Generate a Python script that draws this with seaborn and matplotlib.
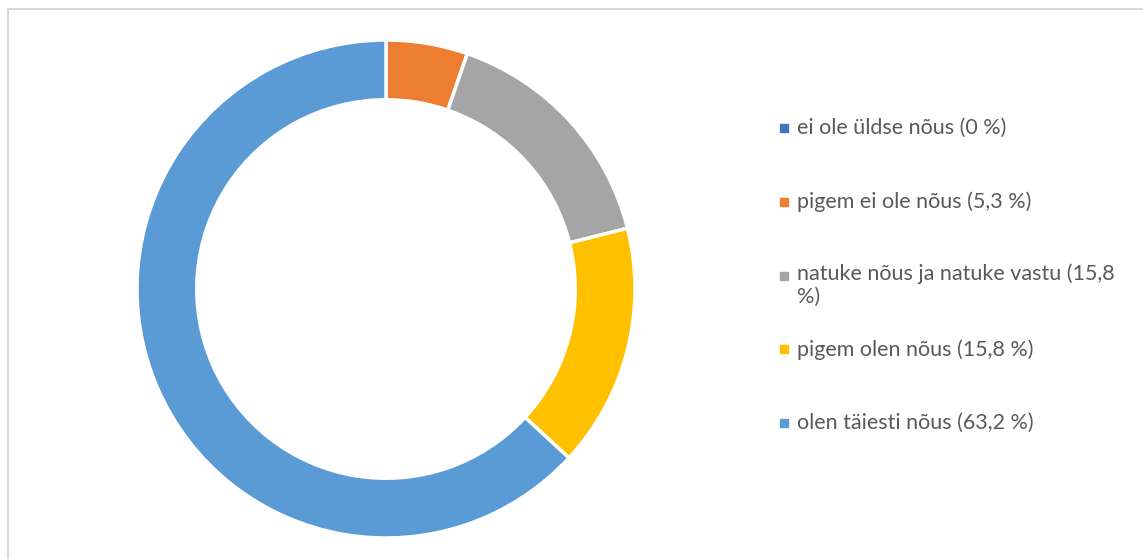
import matplotlib
matplotlib.use("Agg")
import matplotlib.pyplot as plt
import seaborn as sns
from matplotlib.patches import Rectangle

sns.set_theme(style="white")
plt.rcParams['font.family'] = ['Lato', 'DejaVu Sans']

# andmed
labels = ["ei ole üldse nõus (0 %)", "pigem ei ole nõus (5,3 %)",
          "natuke nõus ja natuke vastu (15,8\n%)", "pigem olen nõus (15,8 %)",
          "olen täiesti nõus (63,2 %)"]
values = [0, 5.3, 15.8, 15.8, 63.2]
colors = ["#4472C4", "#ED7D31", "#A5A5A5", "#FFC000", "#5B9BD5"]

W, H = 1143, 559
fig = plt.figure(figsize=(W / 100, H / 100), dpi=100)

# hall raam
fig.patches.append(Rectangle((8 / W, -0.1), 1.2, (H - 9) / H + 0.1, transform=fig.transFigure,
                             fill=False, edgecolor="#D9D9D9", linewidth=1.5))

# sõõrik
cx, cy, r = 386, 289, 249
ax = fig.add_axes([(cx - r) / W, (H - cy - r) / H, 2 * r / W, 2 * r / H])
ax.pie(values, colors=colors, startangle=90, counterclock=False, radius=1,
       wedgeprops=dict(width=0.24, edgecolor="white", linewidth=2.5))
ax.set_xlim(-1, 1)
ax.set_ylim(-1, 1)
ax.set_aspect("equal")
ax.axis("off")

# legend
y0, step = 128, 73.8
for i, (lab, col) in enumerate(zip(labels, colors)):
    y = y0 + i * step
    fig.patches.append(Rectangle((780 / W, (H - y - 4) / H), 8 / W, 8 / H,
                                 transform=fig.transFigure, color=col))
    if "\n" in lab:
        fig.text(797 / W, (H - y + 12) / H, lab, fontsize=15.5, color="#595959",
                 va="top", linespacing=1.15)
    else:
        fig.text(797 / W, (H - y) / H, lab, fontsize=15.5, color="#595959", va="center")

fig.savefig("out.png", dpi=100)
